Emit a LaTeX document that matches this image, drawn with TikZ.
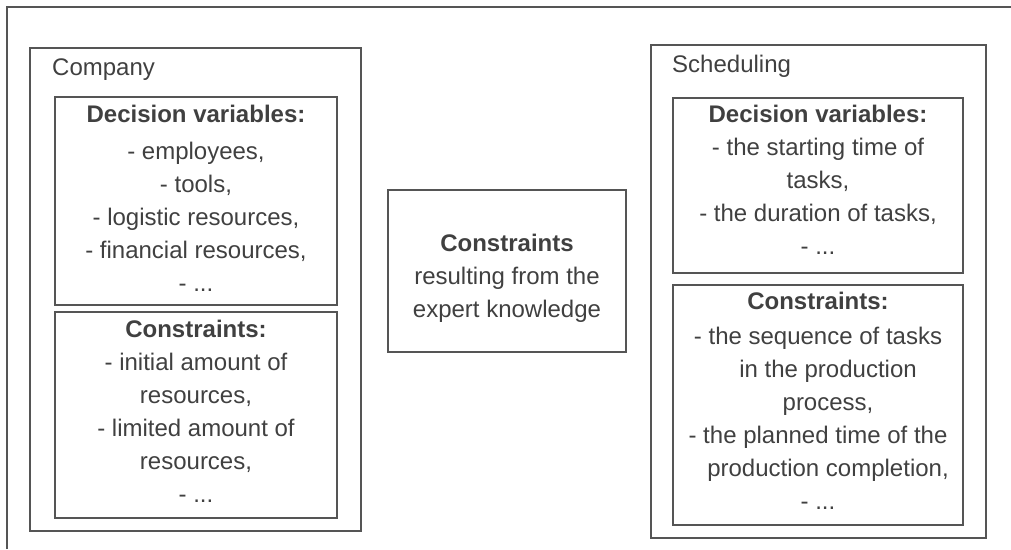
\documentclass[tikz,border=0pt]{standalone}
\usepackage{fontspec}
\setmainfont{Liberation Sans}
\definecolor{edge}{RGB}{85,85,85}
\definecolor{ink}{RGB}{64,64,64}
\begin{document}
\begin{tikzpicture}[x=1pt,y=-1pt,
  every node/.style={font=\fontsize{24}{33}\selectfont, text=ink},
  frame/.style={draw=edge, line width=1.6pt},
  group/.style={draw=edge, line width=1.6pt, inner sep=0pt},
  box/.style={draw=edge, line width=1.6pt, inner sep=0pt},
  boxtext/.style={align=center, inner sep=0pt},
  label/.style={anchor=base west, inner sep=0pt}]
\useasboundingbox (0,0) rectangle (1011,549);

% open outer frame
\coordinate (fbl) at (7,549);
\coordinate (ftl) at (7,7);
\coordinate (ftr) at (1011,7);
\draw[frame] (fbl) -- (ftl) -- (ftr);

% company group
\node[group, minimum width=331pt, minimum height=483pt] (company) at (195.5,289.5) {};
\node[label] (companylbl) at (52,75) {Company};
\node[box, minimum width=282pt, minimum height=208pt] (cdv) at (196,201) {};
\node[boxtext, yshift=3pt] (cdvtext) at (cdv.center)
  {\textbf{Decision variables:}\\[4pt]- employees,\\- tools,\\- logistic resources,\\- financial resources,\\- ...};
\node[box, minimum width=282pt, minimum height=206pt] (ccon) at (196,415) {};
\node[boxtext, yshift=4pt] (ccontext) at (ccon.center)
  {\textbf{Constraints:}\\- initial amount of\\resources,\\- limited amount of\\resources,\\- ...};

% expert knowledge
\node[box, minimum width=238pt, minimum height=162pt] (expert) at (507,271) {};
\node[boxtext, yshift=-7pt] (experttext) at (expert.center)
  {\textbf{Constraints}\\resulting from the\\expert knowledge};

% scheduling group
\node[group, minimum width=335pt, minimum height=493pt] (sched) at (818.5,291.5) {};
\node[label] (schedlbl) at (672,72) {Scheduling};
\node[box, minimum width=290pt, minimum height=175pt] (sdv) at (818,185.5) {};
\node[boxtext, yshift=6pt] (sdvtext) at (sdv.center)
  {\textbf{Decision variables:}\\- the starting time of\\tasks,\\- the duration of tasks,\\- ...};
\node[box, minimum width=290pt, minimum height=240pt] (scon) at (818,405) {};
\node[boxtext, yshift=4pt] (scontext) at (scon.center)
  {\textbf{Constraints:}\\[2pt]- the sequence of tasks\\\hspace*{20pt}in the production\\\hspace*{20pt}process,\\- the planned time of the\\\hspace*{20pt}production completion,\\- ...};
\end{tikzpicture}
\end{document}
